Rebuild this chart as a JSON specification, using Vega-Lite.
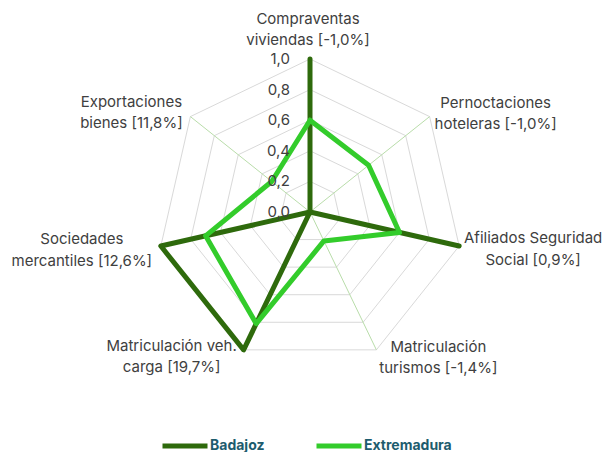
{
  "$schema": "https://vega.github.io/schema/vega-lite/v6.json",
  "width": 606,
  "height": 452,
  "autosize": "none",
  "padding": 0,
  "background": "white",
  "config": {"view": {"stroke": null}, "font": "Inter"},
  "datasets": {
    "series": [
      {"serie": "Badajoz", "i": 0, "v": 1.0},
      {"serie": "Badajoz", "i": 1, "v": 0.0},
      {"serie": "Badajoz", "i": 2, "v": 1.0},
      {"serie": "Badajoz", "i": 3, "v": 0.0},
      {"serie": "Badajoz", "i": 4, "v": 1.0},
      {"serie": "Badajoz", "i": 5, "v": 1.0},
      {"serie": "Badajoz", "i": 6, "v": 0.0},
      {"serie": "Badajoz", "i": 7, "v": 1.0},
      {"serie": "Extremadura", "i": 0, "v": 0.6},
      {"serie": "Extremadura", "i": 1, "v": 0.49},
      {"serie": "Extremadura", "i": 2, "v": 0.6},
      {"serie": "Extremadura", "i": 3, "v": 0.21},
      {"serie": "Extremadura", "i": 4, "v": 0.81},
      {"serie": "Extremadura", "i": 5, "v": 0.7},
      {"serie": "Extremadura", "i": 6, "v": 0.32},
      {"serie": "Extremadura", "i": 7, "v": 0.6}
    ],
    "axes": [
      {"i": 0, "name": "Compraventas\nviviendas [-1,0%]"},
      {"i": 1, "name": "Pernoctaciones\nhoteleras [-1,0%]"},
      {"i": 2, "name": "Afiliados Seguridad\nSocial [0,9%]"},
      {"i": 3, "name": "Matriculación\nturismos [-1,4%]"},
      {"i": 4, "name": "Matriculación veh.\ncarga [19,7%]"},
      {"i": 5, "name": "Sociedades\nmercantiles [12,6%]"},
      {"i": 6, "name": "Exportaciones\nbienes [11,8%]"}
    ],
    "rings": [
      {"r": 0.2, "k": [0, 1, 2, 3, 4, 5, 6, 7]},
      {"r": 0.4, "k": [0, 1, 2, 3, 4, 5, 6, 7]},
      {"r": 0.6, "k": [0, 1, 2, 3, 4, 5, 6, 7]},
      {"r": 0.8, "k": [0, 1, 2, 3, 4, 5, 6, 7]},
      {"r": 1.0, "k": [0, 1, 2, 3, 4, 5, 6, 7]}
    ],
    "ticks": [
      {"r": 0.0, "lab": "0,0"},
      {"r": 0.2, "lab": "0,2"},
      {"r": 0.4, "lab": "0,4"},
      {"r": 0.6, "lab": "0,6"},
      {"r": 0.8, "lab": "0,8"},
      {"r": 1.0, "lab": "1,0"}
    ]
  },
  "layer": [
    {
      "data": {"name": "rings"},
      "transform": [
        {"flatten": ["k"]},
        {"calculate": "datum.r*sin(2*PI*datum.k/7)", "as": "x"},
        {"calculate": "datum.r*cos(2*PI*datum.k/7)", "as": "y"}
      ],
      "mark": {"type": "line", "stroke": "#d9d9d9", "strokeWidth": 1},
      "encoding": {
        "x": {"field": "x", "type": "quantitative", "scale": {"domain": [-2.02614, 1.93464], "nice": false, "zero": false}, "axis": null},
        "y": {"field": "y", "type": "quantitative", "scale": {"domain": [-1.56863, 1.38562], "nice": false, "zero": false}, "axis": null},
        "detail": {"field": "r", "type": "nominal"},
        "order": {"field": "k", "type": "quantitative"}
      }
    },
    {
      "data": {"name": "axes"},
      "transform": [
        {"calculate": "sin(2*PI*datum.i/7)", "as": "ax"},
        {"calculate": "cos(2*PI*datum.i/7)", "as": "ay"},
        {"calculate": "0", "as": "zero"}
      ],
      "mark": {"type": "rule", "stroke": "#b9ddaa", "strokeWidth": 1},
      "encoding": {
        "x": {"field": "zero", "type": "quantitative"},
        "y": {"field": "zero", "type": "quantitative"},
        "x2": {"field": "ax"},
        "y2": {"field": "ay"}
      }
    },
    {
      "data": {"name": "series"},
      "transform": [
        {"calculate": "datum.v*sin(2*PI*datum.i/7)", "as": "x"},
        {"calculate": "datum.v*cos(2*PI*datum.i/7)", "as": "y"}
      ],
      "mark": {"type": "line", "strokeWidth": 5, "strokeJoin": "round", "strokeCap": "round"},
      "encoding": {
        "x": {"field": "x", "type": "quantitative"},
        "y": {"field": "y", "type": "quantitative"},
        "order": {"field": "i", "type": "quantitative"},
        "color": {
          "field": "serie",
          "type": "nominal",
          "scale": {"domain": ["Badajoz", "Extremadura"], "range": ["#2e6a0c", "#33cc2b"]},
          "legend": {
            "orient": "none",
            "legendX": 160,
            "legendY": 421,
            "direction": "horizontal",
            "title": null,
            "symbolType": "stroke",
            "symbolStrokeWidth": 5,
            "symbolSize": 2025,
            "labelFont": "Inter",
            "labelFontWeight": "bold",
            "labelFontSize": 14,
            "labelColor": "#1d5c6e",
            "labelOffset": 0,
            "columnPadding": 41
          }
        }
      }
    },
    {
      "data": {"name": "ticks"},
      "transform": [{"calculate": "0", "as": "zero"}],
      "mark": {"type": "text", "align": "right", "baseline": "middle", "dx": -20, "fontSize": 15, "color": "#404040"},
      "encoding": {
        "x": {"field": "zero", "type": "quantitative"},
        "y": {"field": "r", "type": "quantitative"},
        "text": {"field": "lab", "type": "nominal"}
      }
    },
    {
      "data": {"name": "axes"},
      "transform": [
        {"calculate": "sin(2*PI*datum.i/7)", "as": "ax"},
        {"calculate": "cos(2*PI*datum.i/7)", "as": "ay"}
      ],
      "layer": [
        {"transform": [{"filter": "datum.i==0"}], "mark": {"type": "text", "align": "center", "baseline": "alphabetic", "lineBreak": "\n", "lineHeight": 21.5, "fontSize": 15, "color": "#404040", "dx": -2, "dy": -35}, "encoding": {"x": {"field": "ax", "type": "quantitative"}, "y": {"field": "ay", "type": "quantitative"}, "text": {"field": "name", "type": "nominal"}}},
        {"transform": [{"filter": "datum.i==1"}], "mark": {"type": "text", "align": "center", "baseline": "alphabetic", "lineBreak": "\n", "lineHeight": 21.5, "fontSize": 15, "color": "#404040", "dx": 66, "dy": -9}, "encoding": {"x": {"field": "ax", "type": "quantitative"}, "y": {"field": "ay", "type": "quantitative"}, "text": {"field": "name", "type": "nominal"}}},
        {"transform": [{"filter": "datum.i==2"}], "mark": {"type": "text", "align": "center", "baseline": "alphabetic", "lineBreak": "\n", "lineHeight": 21.5, "fontSize": 15, "color": "#404040", "dx": 74, "dy": -3}, "encoding": {"x": {"field": "ax", "type": "quantitative"}, "y": {"field": "ay", "type": "quantitative"}, "text": {"field": "name", "type": "nominal"}}},
        {"transform": [{"filter": "datum.i==3"}], "mark": {"type": "text", "align": "center", "baseline": "alphabetic", "lineBreak": "\n", "lineHeight": 21.5, "fontSize": 15, "color": "#404040", "dx": 62, "dy": 2}, "encoding": {"x": {"field": "ax", "type": "quantitative"}, "y": {"field": "ay", "type": "quantitative"}, "text": {"field": "name", "type": "nominal"}}},
        {"transform": [{"filter": "datum.i==4"}], "mark": {"type": "text", "align": "center", "baseline": "alphabetic", "lineBreak": "\n", "lineHeight": 21.5, "fontSize": 15, "color": "#404040", "dx": -72, "dy": 1}, "encoding": {"x": {"field": "ax", "type": "quantitative"}, "y": {"field": "ay", "type": "quantitative"}, "text": {"field": "name", "type": "nominal"}}},
        {"transform": [{"filter": "datum.i==5"}], "mark": {"type": "text", "align": "center", "baseline": "alphabetic", "lineBreak": "\n", "lineHeight": 21.5, "fontSize": 15, "color": "#404040", "dx": -79, "dy": -2}, "encoding": {"x": {"field": "ax", "type": "quantitative"}, "y": {"field": "ay", "type": "quantitative"}, "text": {"field": "name", "type": "nominal"}}},
        {"transform": [{"filter": "datum.i==6"}], "mark": {"type": "text", "align": "center", "baseline": "alphabetic", "lineBreak": "\n", "lineHeight": 21.5, "fontSize": 15, "color": "#404040", "dx": -59, "dy": -10}, "encoding": {"x": {"field": "ax", "type": "quantitative"}, "y": {"field": "ay", "type": "quantitative"}, "text": {"field": "name", "type": "nominal"}}}
      ]
    }
  ]
}
